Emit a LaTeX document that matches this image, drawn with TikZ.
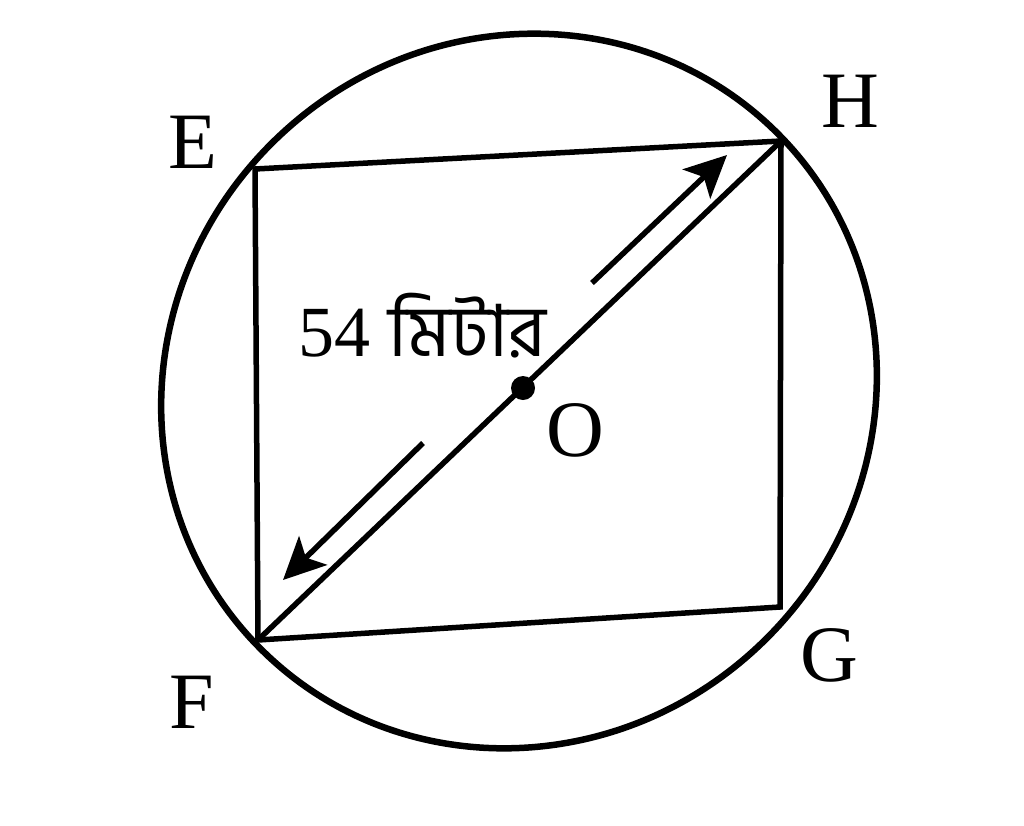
\documentclass[tikz,border=0pt]{standalone}
\usepackage{fontspec}
\setmainfont{Liberation Serif}
\newfontfamily\latinserif{Liberation Serif}
\newfontfamily\bnfont[Script=Bengali]{Hind Siliguri}
\usetikzlibrary{arrows.meta}
\tikzset{
  shapeline/.style={line width=5.5pt, line join=miter},
  rimline/.style={line width=6.5pt},
  dimarrow/.style={line width=5.5pt, -{Stealth[length=42pt,width=40pt,inset=10pt]}},
  vlabel/.style={font=\latinserif\fontsize{80}{88}\selectfont, inner sep=0pt},
}
\begin{document}
\begin{tikzpicture}[x=1pt,y=-1pt]
\useasboundingbox (0,0) rectangle (1024,825);
\coordinate (O) at (519,391);
\coordinate (E) at (255,169);
\coordinate (H) at (781,141);
\coordinate (G) at (780,607);
\coordinate (F) at (258,640);
\draw[rimline, rotate around={44:(O)}] (O) ellipse [x radius=365pt, y radius=350pt];
\draw[shapeline] (E) -- (H) -- (G) -- (F) -- cycle;
\draw[shapeline] (F) -- (H);
\fill (523,388) circle (12pt);
\coordinate (a1s) at (592,283);
\coordinate (a1e) at (727,155);
\coordinate (a2s) at (423,443);
\coordinate (a2e) at (283,580);
\draw[dimarrow] (a1s) -- (a1e);
\draw[dimarrow] (a2s) -- (a2e);
\node[vlabel] (lE) at (193,142) {E};
\node[vlabel] (lH) at (850,101) {H};
\node[vlabel] (lG) at (829,655) {G};
\node[vlabel] (lF) at (192,702) {F};
\node[vlabel] (lO) at (575,430) {O};
\node[font=\fontsize{72}{80}\selectfont, inner sep=0pt, anchor=base west] (len) at (298,356) {{\latinserif 54} {\bnfont মিটার}};
\end{tikzpicture}
\end{document}
